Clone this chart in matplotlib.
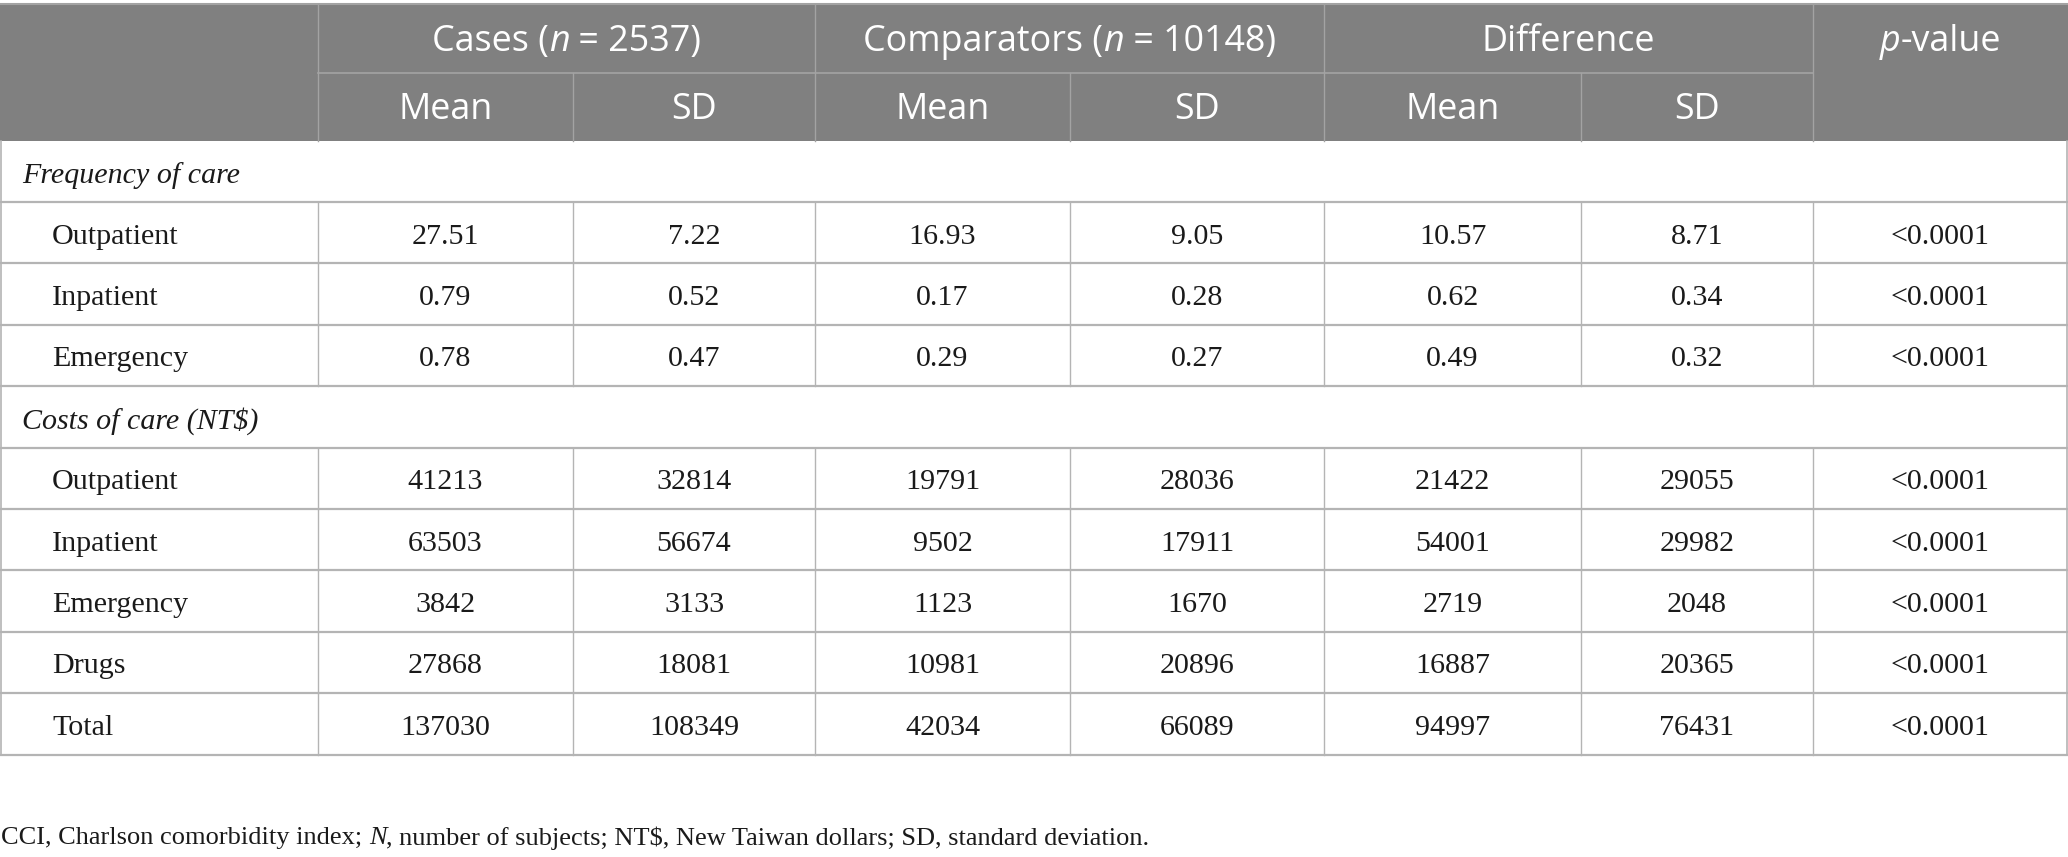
import matplotlib
matplotlib.use("Agg")
import matplotlib.pyplot as plt
from matplotlib.patches import Rectangle

# ---------------- data ----------------
freq_labels = ["Outpatient", "Inpatient", "Emergency"]
freq_cases_mean = [27.51, 0.79, 0.78]
freq_cases_sd = [7.22, 0.52, 0.47]
freq_comp_mean = [16.93, 0.17, 0.29]
freq_comp_sd = [9.05, 0.28, 0.27]
freq_diff_mean = [10.57, 0.62, 0.49]
freq_diff_sd = [8.71, 0.34, 0.32]
freq_p = ["<0.0001", "<0.0001", "<0.0001"]

cost_labels = ["Outpatient", "Inpatient", "Emergency", "Drugs", "Total"]
cost_cases_mean = [41213, 63503, 3842, 27868, 137030]
cost_cases_sd = [32814, 56674, 3133, 18081, 108349]
cost_comp_mean = [19791, 9502, 1123, 10981, 42034]
cost_comp_sd = [28036, 17911, 1670, 20896, 66089]
cost_diff_mean = [21422, 54001, 2719, 16887, 94997]
cost_diff_sd = [29055, 29982, 2048, 20365, 76431]
cost_p = ["<0.0001"] * 5

section_titles = ["Frequency of care", "Costs of care (NT$)"]
group_headers = [
    [("Cases (", "n"), ("n", "i"), (" = 2537)", "n")],
    [("Comparators (", "n"), ("n", "i"), (" = 10148)", "n")],
    [("Difference", "n")],
]
sub_headers = ["Mean", "SD"]
footnote_runs = [("CCI, Charlson comorbidity index; ", "n"), ("N", "i"),
                 (", number of subjects; NT$, New Taiwan dollars; SD, standard deviation.", "n")]

# ---------------- layout ----------------
W, H = 2068, 857
fig = plt.figure(figsize=(W / 100, H / 100), dpi=100)
ax = fig.add_axes([0, 0, 1, 1])
ax.set_xlim(0, W)
ax.set_ylim(H, 0)
ax.axis("off")

col_x = [1, 318, 573, 815, 1070, 1324, 1581, 1813, 2067]
head_top, head_mid, head_bot = 4, 72.5, 140.5
row_h = 61.4
n_rows = 2 + len(freq_labels) + len(cost_labels)
row_y = [head_bot + i * row_h for i in range(n_rows + 1)]

HEAD_BG = "#808080"
HEAD_LINE = "#a3a3a3"
BODY_LINE = "#b4b4b4"
TXT = "#1a1a1a"
SANS = "Open Sans"
SERIF = "Liberation Serif"
HFS = 25.8
BFS = 21.6
BODY_DY = 4

renderer = fig.canvas.get_renderer()


def draw_runs(x, y, runs, family, size, color, ha="center"):
    objs = []
    for txt, st in runs:
        t = ax.text(0, y, txt, fontfamily=family, fontsize=size, color=color,
                    style="italic" if st == "i" else "normal", va="center", ha="left")
        objs.append(t)
    widths = [o.get_window_extent(renderer).width for o in objs]
    total = sum(widths)
    start = x - total / 2 if ha == "center" else x
    for o, w in zip(objs, widths):
        o.set_x(start)
        start += w


# header background
ax.add_patch(Rectangle((0, head_top), W, head_bot - head_top, facecolor=HEAD_BG, edgecolor="none"))
# header lines
ax.plot([0, W], [head_top, head_top], color=HEAD_LINE, lw=1.5)
ax.plot([col_x[1], col_x[7]], [head_mid, head_mid], color=HEAD_LINE, lw=1.2)
for i, cx in enumerate(col_x):
    if i in (0, 8):
        continue
    if i in (2, 4, 6):
        ax.plot([cx, cx], [head_mid, head_bot], color=HEAD_LINE, lw=1.0)
    else:
        ax.plot([cx, cx], [head_top, head_bot], color=HEAD_LINE, lw=1.0)

# header texts
for g, runs in enumerate(group_headers):
    cx = (col_x[1 + 2 * g] + col_x[3 + 2 * g]) / 2
    draw_runs(cx, (head_top + head_mid) / 2 + 4, runs, SANS, HFS, "white")
    for s, lab in enumerate(sub_headers):
        sx = (col_x[1 + 2 * g + s] + col_x[2 + 2 * g + s]) / 2
        ax.text(sx, (head_mid + head_bot) / 2 + 3, lab, fontfamily=SANS, fontsize=HFS,
                color="white", ha="center", va="center")
draw_runs((col_x[7] + col_x[8]) / 2, (head_top + head_mid) / 2 + 4,
          [("p", "i"), ("-value", "n")], SANS, HFS, "white")

# body rows
rows = []
rows.append(("section", section_titles[0]))
for i in range(len(freq_labels)):
    vals = [freq_cases_mean[i], freq_cases_sd[i], freq_comp_mean[i], freq_comp_sd[i],
            freq_diff_mean[i], freq_diff_sd[i]]
    rows.append(("data", freq_labels[i], [f"{v:.2f}" for v in vals] + [freq_p[i]]))
rows.append(("section", section_titles[1]))
for i in range(len(cost_labels)):
    vals = [cost_cases_mean[i], cost_cases_sd[i], cost_comp_mean[i], cost_comp_sd[i],
            cost_diff_mean[i], cost_diff_sd[i]]
    rows.append(("data", cost_labels[i], [f"{v:d}" for v in vals] + [cost_p[i]]))

for r, row in enumerate(rows):
    y0, y1 = row_y[r], row_y[r + 1]
    yc = (y0 + y1) / 2 + BODY_DY
    if row[0] == "section":
        ax.text(22, yc, row[1], fontfamily=SERIF, fontsize=BFS, style="italic",
                color=TXT, ha="left", va="center")
    else:
        ax.text(52, yc, row[1], fontfamily=SERIF, fontsize=BFS, color=TXT,
                ha="left", va="center")
        for c, v in enumerate(row[2]):
            cx = (col_x[1 + c] + col_x[2 + c]) / 2
            ax.text(cx, yc, v, fontfamily=SERIF, fontsize=BFS, color=TXT,
                    ha="center", va="center")
        for cx in col_x[1:8]:
            ax.plot([cx, cx], [y0, y1], color=BODY_LINE, lw=1.0)
    ax.plot([0, W], [y1, y1], color=BODY_LINE, lw=1.6)
    ax.plot([col_x[0], col_x[0]], [y0, y1], color=BODY_LINE, lw=1.2)
    ax.plot([col_x[8], col_x[8]], [y0, y1], color=BODY_LINE, lw=1.2)

# footnote
draw_runs(1, 838, footnote_runs, SERIF, 19, TXT, ha="left")

fig.savefig("out.png", dpi=100, facecolor="white")
